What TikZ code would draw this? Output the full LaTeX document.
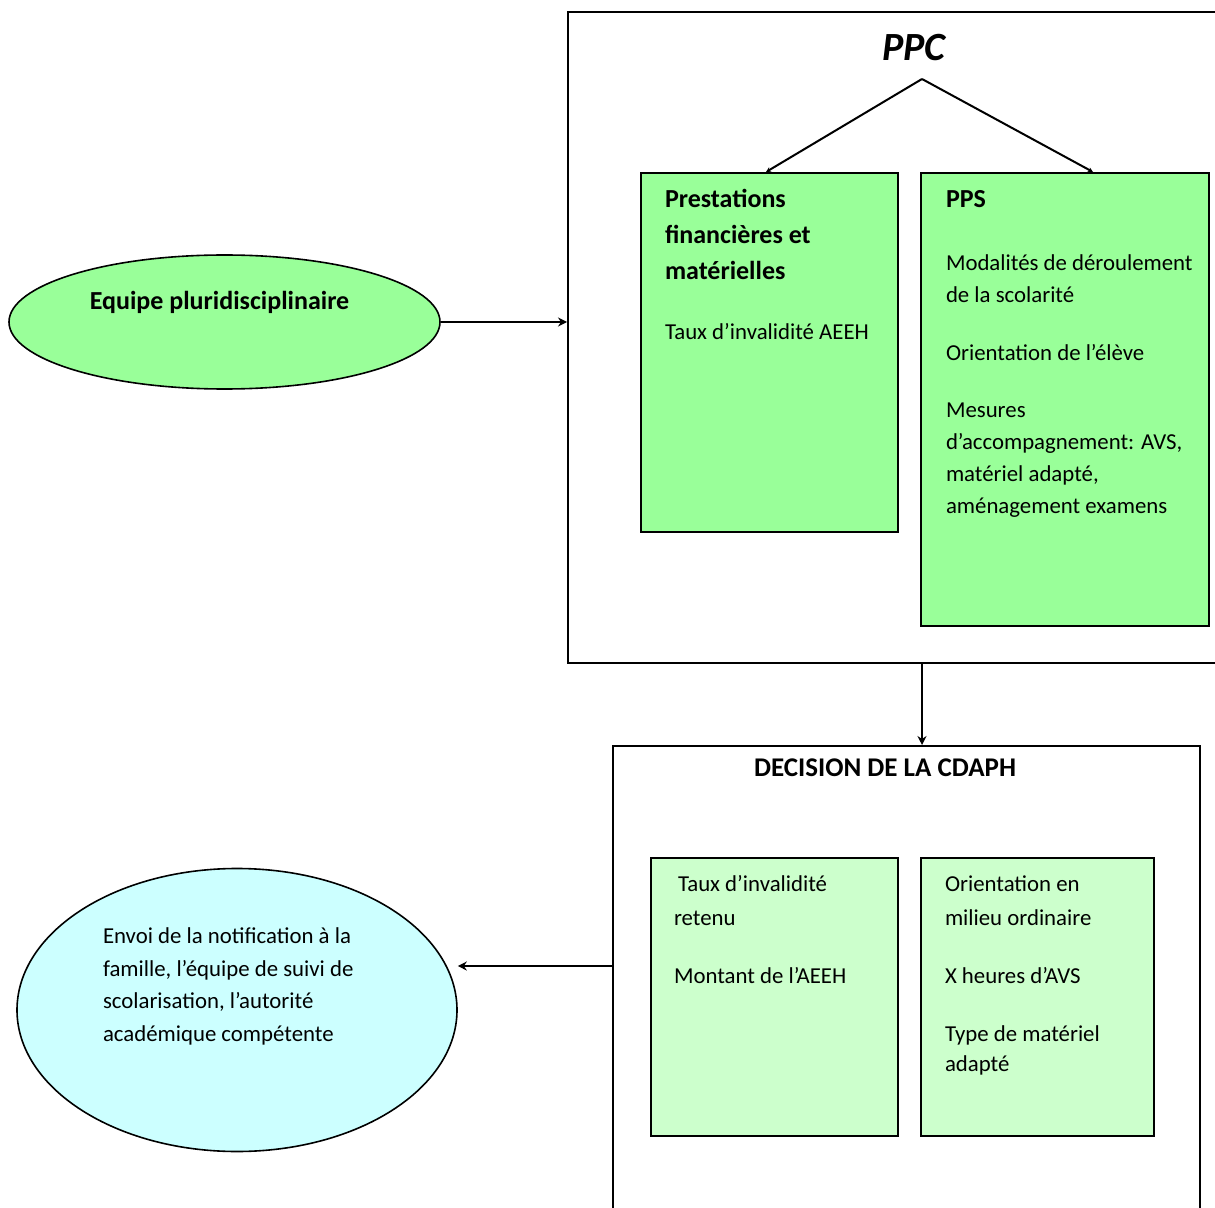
\documentclass[tikz,border=0pt]{standalone}
\usepackage{fontspec}
\setmainfont{Carlito}
\usetikzlibrary{arrows.meta,shapes.geometric}

\definecolor{ppcgreen}{RGB}{153,255,153}
\definecolor{cdaphgreen}{RGB}{204,255,204}
\definecolor{envoiblue}{RGB}{204,255,255}
\newcommand{\boldhead}[1]{{\fontsize{13}{18}\selectfont\bfseries #1}}

\begin{document}
\begin{tikzpicture}[x=0.5pt,y=-0.5pt,>={Stealth[length=4.5pt,width=4.5pt]},
  line width=1pt,
  every node/.style={font=\fontsize{11.4}{16}\selectfont},
  frame/.style={draw,fill=white,anchor=north west,inner sep=0pt},
  greenbox/.style={frame,fill=ppcgreen},
  paleboxe/.style={frame,fill=cdaphgreen},
  txt/.style={anchor=base west,align=left,inner sep=0pt}]
  \useasboundingbox (0,0) rectangle (1215,1208);
  % PPC
  \node[frame,minimum width=336.5pt,minimum height=325.5pt] (ppc) at (567,11) {};
  \node[font=\fontsize{20}{24}\selectfont\bfseries\itshape] (ppctitle) at (914,48) {PPC};
  \coordinate (apex) at (922,79);
  \node[greenbox,minimum width=128.5pt,minimum height=179.5pt] (fin) at (640,172) {};
  \node[greenbox,minimum width=144pt,minimum height=226.5pt] (pps) at (920,172) {};
  \node[txt,font=\fontsize{11.4}{18}\selectfont] (fintxt) at (664,340)
    {\boldhead{Prestations}\\\boldhead{financières et}\\\boldhead{matérielles}\\[12pt]Taux d’invalidité AEEH};
  \node[txt] (ppstxt) at (945,513)
    {\boldhead{PPS}\\[15.5pt]Modalités de déroulement\\de la scolarité\\[13pt]Orientation de l’élève\\[12.5pt]Mesures\\d’accompagnement: AVS,\\matériel adapté,\\aménagement examens};
  \draw[->,>={Stealth[length=2.5pt,width=2.5pt]}] (apex) -- ([xshift=-1.75pt]fin.north);
  \draw[->,>={Stealth[length=2.5pt,width=2.5pt]}] (apex) -- ([xshift=14pt]pps.north);
  % equipe
  \node[ellipse,draw,fill=ppcgreen,line width=0.8pt,minimum width=215.5pt,minimum height=67pt] (equipe) at (224.5,322) {};
  \node[font=\fontsize{13}{16}\selectfont\bfseries] (equipetxt) at (219.5,302) {Equipe pluridisciplinaire};
  \draw[->] (equipe.east) -- (equipe.east -| ppc.west);
  % CDAPH
  \node[frame,minimum width=293.5pt,minimum height=250pt] (cdaph) at (612,745) {};
  \node[font=\fontsize{13.5}{16}\selectfont\bfseries] (cdaphtitle) at (885,768) {DECISION DE LA CDAPH};
  \draw[->] ([xshift=177.5pt]ppc.south west) -- ([xshift=155pt]cdaph.north west);
  \node[paleboxe,minimum width=123.5pt,minimum height=139pt] (taux) at (650,857) {};
  \node[paleboxe,minimum width=116.5pt,minimum height=139pt] (orient) at (920,857) {};
  \node[txt,font=\fontsize{11.4}{17}\selectfont] (tauxtxt) at (673,983)
    {\hspace{2pt}Taux d’invalidité\\retenu\\[12pt]Montant de l’AEEH};
  \node[txt,font=\fontsize{11.4}{17}\selectfont] (orienttxt) at (944,1071)
    {Orientation en\\milieu ordinaire\\[12pt]X heures d’AVS\\[12pt]Type de matériel\\[-2pt]adapté};
  % envoi
  \node[ellipse,draw,fill=envoiblue,line width=0.8pt,minimum width=220pt,minimum height=141.5pt] (envoi) at (237,1010) {};
  \node[txt,font=\fontsize{11.4}{16.2}\selectfont] (envoitxt) at (102,1041)
    {Envoi de la notification à la\\famille, l’équipe de suivi de\\scolarisation, l’autorité\\académique compétente};
  \coordinate (notif) at ([yshift=-110.5pt]cdaph.north west);
  \draw[->] (notif) -- (notif -| envoi.east);
\end{tikzpicture}
\end{document}
